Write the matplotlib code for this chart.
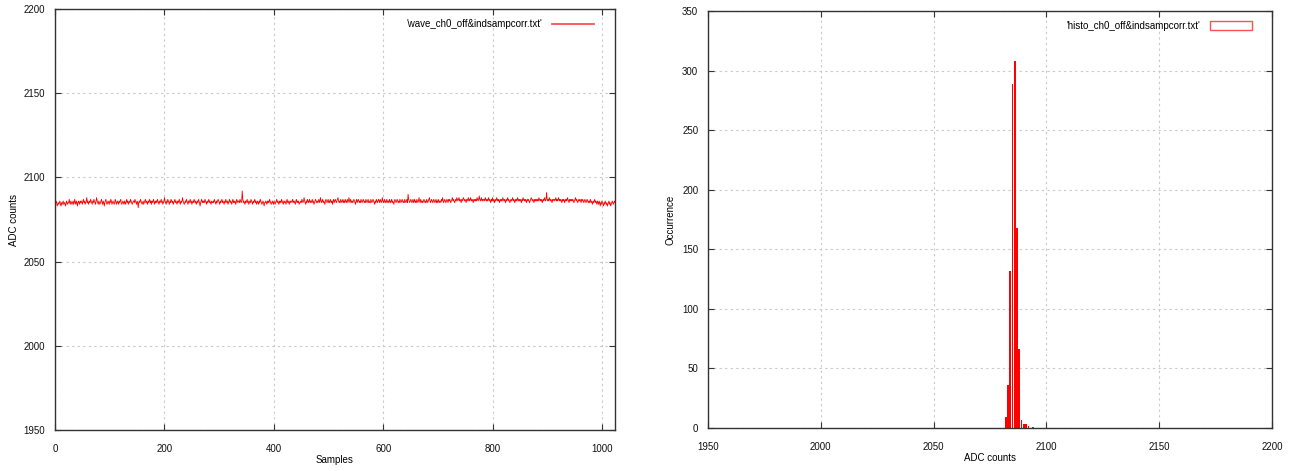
import numpy as np
import matplotlib
matplotlib.use("Agg")
import matplotlib.pyplot as plt
from matplotlib.patches import Patch
from matplotlib.lines import Line2D

# waveform, ADC counts per sample
wave = [
    2085, 2084, 2086, 2085, 2083, 2084, 2085, 2084, 2085, 2086, 2084, 2083, 2085, 2084, 2085, 2086,
    2084, 2085, 2085, 2083, 2084, 2086, 2085, 2084, 2085, 2085, 2087, 2085, 2084, 2086, 2085, 2084,
    2085, 2086, 2084, 2085, 2087, 2085, 2084, 2086, 2085, 2083, 2085, 2086, 2085, 2084, 2086, 2085,
    2086, 2085, 2084, 2086, 2087, 2085, 2086, 2084, 2085, 2086, 2088, 2085, 2086, 2084, 2085, 2086,
    2085, 2087, 2086, 2085, 2084, 2086, 2085, 2087, 2086, 2085, 2084, 2086, 2088, 2086, 2085, 2084,
    2086, 2085, 2084, 2085, 2086, 2087, 2085, 2084, 2086, 2085, 2083, 2085, 2086, 2087, 2085, 2084,
    2085, 2086, 2085, 2084, 2086, 2085, 2087, 2086, 2084, 2085, 2086, 2085, 2084, 2085, 2087, 2086,
    2084, 2085, 2086, 2085, 2084, 2086, 2085, 2086, 2087, 2085, 2084, 2085, 2086, 2085, 2084, 2086,
    2085, 2084, 2086, 2087, 2085, 2086, 2084, 2085, 2086, 2085, 2087, 2086, 2085, 2084, 2085, 2086,
    2086, 2085, 2087, 2086, 2085, 2084, 2086, 2085, 2082, 2085, 2086, 2085, 2087, 2086, 2085, 2084,
    2085, 2086, 2084, 2085, 2086, 2087, 2085, 2086, 2085, 2084, 2086, 2085, 2086, 2087, 2085, 2086,
    2084, 2086, 2085, 2086, 2087, 2085, 2084, 2086, 2085, 2086, 2085, 2087, 2086, 2085, 2084, 2086,
    2085, 2086, 2087, 2085, 2086, 2084, 2085, 2086, 2088, 2086, 2085, 2084, 2086, 2085, 2087, 2086,
    2085, 2084, 2086, 2085, 2087, 2086, 2085, 2086, 2084, 2085, 2086, 2087, 2085, 2086, 2085, 2084,
    2086, 2085, 2086, 2087, 2085, 2084, 2086, 2085, 2086, 2088, 2086, 2085, 2084, 2085, 2086, 2085,
    2087, 2086, 2085, 2084, 2086, 2085, 2086, 2087, 2085, 2086, 2084, 2085, 2086, 2085, 2087, 2086,
    2085, 2086, 2084, 2085, 2086, 2085, 2087, 2086, 2085, 2083, 2085, 2086, 2087, 2085, 2086, 2085,
    2086, 2085, 2087, 2086, 2085, 2084, 2086, 2085, 2086, 2087, 2085, 2086, 2085, 2084, 2086, 2085,
    2085, 2086, 2085, 2087, 2086, 2085, 2084, 2086, 2085, 2086, 2087, 2086, 2085, 2084, 2086, 2085,
    2086, 2087, 2085, 2086, 2085, 2084, 2086, 2085, 2087, 2086, 2085, 2086, 2084, 2085, 2086, 2087,
    2085, 2086, 2085, 2084, 2086, 2087, 2085, 2086, 2085, 2086, 2084, 2085, 2087, 2086, 2085, 2086,
    2086, 2085, 2087, 2086, 2085, 2086, 2092, 2087, 2085, 2086, 2085, 2084, 2086, 2085, 2086, 2087,
    2085, 2086, 2084, 2085, 2086, 2085, 2087, 2086, 2085, 2084, 2086, 2085, 2086, 2087, 2085, 2086,
    2084, 2085, 2086, 2085, 2084, 2086, 2085, 2087, 2086, 2085, 2084, 2085, 2086, 2085, 2083, 2085,
    2085, 2086, 2085, 2084, 2086, 2085, 2086, 2085, 2087, 2086, 2085, 2084, 2085, 2086, 2085, 2084,
    2086, 2085, 2084, 2085, 2086, 2087, 2085, 2086, 2085, 2084, 2086, 2085, 2086, 2085, 2087, 2086,
    2085, 2084, 2086, 2085, 2086, 2085, 2084, 2086, 2087, 2085, 2086, 2085, 2084, 2086, 2085, 2086,
    2086, 2085, 2087, 2086, 2085, 2086, 2085, 2084, 2086, 2087, 2085, 2086, 2085, 2086, 2084, 2085,
    2085, 2086, 2085, 2087, 2086, 2085, 2086, 2088, 2086, 2085, 2084, 2086, 2085, 2087, 2086, 2085,
    2086, 2087, 2085, 2086, 2085, 2086, 2087, 2085, 2086, 2084, 2085, 2086, 2087, 2086, 2085, 2086,
    2085, 2086, 2087, 2085, 2086, 2088, 2086, 2085, 2086, 2087, 2085, 2086, 2085, 2084, 2086, 2087,
    2086, 2085, 2086, 2087, 2085, 2086, 2085, 2087, 2086, 2085, 2086, 2084, 2086, 2087, 2085, 2086,
    2087, 2086, 2085, 2086, 2087, 2088, 2086, 2085, 2086, 2085, 2087, 2086, 2085, 2086, 2087, 2085,
    2086, 2085, 2087, 2086, 2085, 2086, 2087, 2085, 2086, 2088, 2086, 2085, 2087, 2086, 2085, 2086,
    2085, 2086, 2087, 2086, 2085, 2084, 2086, 2087, 2085, 2086, 2087, 2086, 2085, 2086, 2085, 2087,
    2086, 2085, 2086, 2087, 2086, 2085, 2086, 2085, 2087, 2086, 2085, 2086, 2087, 2085, 2086, 2085,
    2085, 2087, 2086, 2085, 2086, 2087, 2086, 2085, 2084, 2086, 2085, 2087, 2086, 2085, 2086, 2087,
    2086, 2085, 2087, 2086, 2085, 2086, 2088, 2086, 2085, 2086, 2087, 2085, 2086, 2085, 2087, 2086,
    2085, 2086, 2085, 2087, 2086, 2085, 2086, 2087, 2085, 2086, 2085, 2084, 2086, 2087, 2086, 2085,
    2086, 2087, 2086, 2085, 2086, 2085, 2087, 2086, 2085, 2086, 2087, 2086, 2085, 2086, 2085, 2087,
    2086, 2085, 2086, 2087, 2085, 2090, 2087, 2086, 2085, 2086, 2087, 2086, 2085, 2086, 2087, 2085,
    2086, 2087, 2085, 2086, 2085, 2087, 2086, 2085, 2086, 2088, 2086, 2085, 2087, 2086, 2085, 2086,
    2085, 2086, 2087, 2086, 2085, 2086, 2085, 2087, 2086, 2085, 2086, 2087, 2088, 2086, 2085, 2086,
    2087, 2086, 2085, 2086, 2087, 2086, 2085, 2086, 2087, 2085, 2086, 2085, 2087, 2086, 2085, 2086,
    2086, 2085, 2087, 2086, 2088, 2086, 2085, 2086, 2087, 2086, 2085, 2086, 2087, 2086, 2085, 2087,
    2086, 2087, 2086, 2085, 2086, 2087, 2088, 2086, 2087, 2086, 2085, 2086, 2087, 2086, 2088, 2087,
    2086, 2087, 2088, 2086, 2087, 2086, 2085, 2087, 2086, 2087, 2088, 2087, 2086, 2087, 2086, 2085,
    2087, 2086, 2087, 2088, 2086, 2087, 2086, 2088, 2087, 2086, 2087, 2086, 2085, 2087, 2086, 2087,
    2086, 2087, 2086, 2088, 2087, 2086, 2087, 2089, 2087, 2086, 2087, 2088, 2086, 2087, 2086, 2087,
    2087, 2086, 2088, 2087, 2086, 2087, 2086, 2087, 2088, 2086, 2087, 2086, 2085, 2087, 2086, 2088,
    2086, 2087, 2086, 2085, 2087, 2086, 2087, 2088, 2086, 2087, 2086, 2087, 2085, 2086, 2087, 2086,
    2087, 2086, 2088, 2087, 2086, 2087, 2086, 2085, 2087, 2086, 2087, 2088, 2086, 2087, 2086, 2085,
    2086, 2087, 2086, 2087, 2088, 2086, 2087, 2086, 2085, 2087, 2086, 2087, 2086, 2088, 2087, 2086,
    2087, 2086, 2087, 2086, 2085, 2087, 2086, 2088, 2087, 2086, 2087, 2086, 2087, 2085, 2086, 2087,
    2086, 2087, 2086, 2085, 2086, 2087, 2088, 2087, 2086, 2087, 2086, 2085, 2087, 2086, 2087, 2086,
    2087, 2086, 2087, 2086, 2088, 2087, 2086, 2087, 2086, 2087, 2085, 2086, 2087, 2086, 2088, 2087,
    2086, 2087, 2091, 2087, 2086, 2087, 2086, 2088, 2087, 2086, 2087, 2086, 2085, 2087, 2086, 2087,
    2087, 2086, 2087, 2088, 2086, 2087, 2086, 2087, 2088, 2086, 2087, 2086, 2087, 2086, 2085, 2087,
    2086, 2087, 2086, 2085, 2087, 2086, 2087, 2086, 2088, 2087, 2086, 2085, 2087, 2086, 2087, 2086,
    2087, 2086, 2087, 2086, 2085, 2086, 2087, 2088, 2086, 2087, 2086, 2085, 2086, 2087, 2086, 2087,
    2086, 2085, 2087, 2086, 2087, 2086, 2085, 2086, 2087, 2086, 2085, 2086, 2087, 2086, 2085, 2086,
    2085, 2086, 2087, 2085, 2086, 2085, 2084, 2086, 2085, 2086, 2087, 2085, 2086, 2085, 2084, 2086,
    2085, 2084, 2086, 2085, 2083, 2085, 2084, 2086, 2085, 2084, 2083, 2085, 2084, 2086, 2085, 2084,
    2085, 2083, 2084, 2085, 2086, 2084, 2085, 2083, 2084, 2085, 2086, 2085, 2084, 2085, 2086, 2085,
]

# histogram (right panel)
adc_bins = [2082, 2083, 2084, 2085, 2086, 2087, 2088, 2089, 2090, 2091, 2092, 2094]
occurrence = [9, 36, 132, 289, 308, 168, 66, 7, 3, 3, 2, 1]

wave_label = "'wave_ch0_off&indsampcorr.txt'"
histo_label = "'histo_ch0_off&indsampcorr.txt'"

plt.rcParams['font.family'] = ['Liberation Sans', 'DejaVu Sans']
plt.rcParams['font.size'] = 7

fig = plt.figure(figsize=(12.99, 4.71), dpi=100)
ax1 = fig.add_axes([55 / 1299, 41 / 471, 560 / 1299, 421 / 471])
ax2 = fig.add_axes([708 / 1299, 43 / 471, 564 / 1299, 417 / 471])

frame_col = '#333333'
grid_kw = dict(color='#c8c8c8', linestyle=(0, (2, 3)), linewidth=0.8)


def style_axes(ax):
    for s in ax.spines.values():
        s.set_color(frame_col)
        s.set_linewidth(1.0)
    ax.tick_params(direction='in', length=4, width=0.8, color=frame_col,
                   top=True, right=True, labelsize=7, labelcolor='#111111')
    ax.tick_params(axis='x', pad=10)
    ax.tick_params(axis='y', pad=7)
    ax.grid(True, **grid_kw)
    ax.set_axisbelow(True)


# left: waveform
samples = np.arange(len(wave))
ax1.plot(samples, wave, color='red', linewidth=0.6)
ax1.set_xlim(0, 1023)
ax1.set_ylim(1950, 2200)
ax1.set_xticks(range(0, 1001, 200))
ax1.set_yticks(range(1950, 2201, 50))
ax1.set_xlabel('Samples', labelpad=1)
ax1.set_ylabel('ADC counts', labelpad=3)
style_axes(ax1)
wave_handle = Line2D([], [], color='#ff5050', linewidth=1.3)
ax1.legend([wave_handle], [wave_label], loc='upper right', bbox_to_anchor=(0.97, 0.985),
           frameon=False, markerfirst=False, handlelength=4.4, handletextpad=1.0,
           borderaxespad=0)

# right: histogram
ax2.bar(adc_bins, occurrence, width=0.75, color='red', linewidth=0)
ax2.set_xlim(1950, 2200)
ax2.set_ylim(0, 350)
ax2.set_xticks(range(1950, 2201, 50))
ax2.set_yticks(range(0, 351, 50))
ax2.set_xlabel('ADC counts', labelpad=1)
ax2.set_ylabel('Occurrence', labelpad=5)
style_axes(ax2)
proxy = Patch(facecolor='white', edgecolor='#ff5050', linewidth=1.0)
ax2.legend([proxy], [histo_label], loc='upper right', bbox_to_anchor=(0.972, 0.985),
           frameon=False, markerfirst=False, handlelength=4.4, handleheight=1.0,
           handletextpad=1.0, borderaxespad=0)

fig.savefig('out.png', dpi=100)
